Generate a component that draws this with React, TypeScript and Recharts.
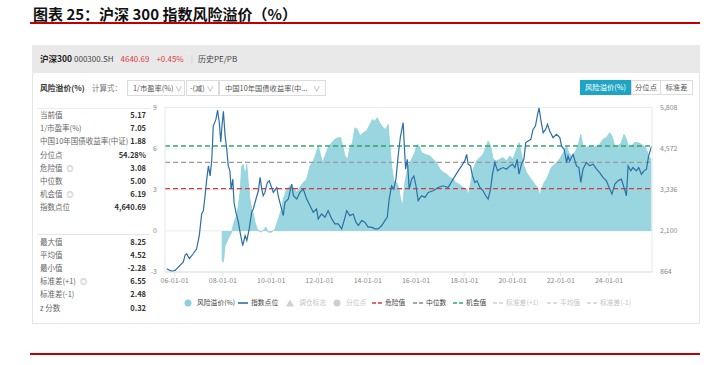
import React from 'react';
import { ComposedChart, Area, Line, XAxis, YAxis, CartesianGrid, ReferenceLine } from 'recharts';

// ---------- data ----------
const xTicks = [2006, 2008, 2010, 2012, 2014, 2016, 2018, 2020, 2022, 2024];
const leftTicks = [-3, 0, 3, 6, 9];
const rightTicks = [864, 2100, 3336, 4572, 5808];
const dangerValue = 3.08;
const medianValue = 5.0;
const chanceValue = 6.19;

// 指数点位 [time(year), points]
const indexSeries: [number, number][] = [
  [2005.67, 963], [2005.88, 885], [2006.02, 913], [2006.15, 1012], [2006.36, 1165], [2006.43, 1363],
  [2006.5, 1412], [2006.61, 1264], [2006.77, 1412], [2006.91, 1561], [2007.02, 1960], [2007.12, 2608],
  [2007.19, 2707], [2007.26, 3156], [2007.33, 3654], [2007.4, 4053], [2007.47, 3752], [2007.54, 4251],
  [2007.6, 5249], [2007.71, 5449], [2007.78, 5726], [2007.85, 5351], [2007.91, 4769], [2007.96, 5249],
  [2008.02, 5697], [2008.09, 4951], [2008.16, 4552], [2008.22, 4053], [2008.29, 3904], [2008.34, 3355],
  [2008.41, 3654], [2008.46, 2957], [2008.54, 2659], [2008.64, 2360], [2008.71, 2062], [2008.82, 1660],
  [2008.92, 1960], [2008.99, 1811], [2009.09, 2160], [2009.19, 2659], [2009.26, 2758], [2009.37, 3057],
  [2009.47, 3305], [2009.54, 3706], [2009.61, 3355], [2009.67, 3156], [2009.74, 3256], [2009.84, 3555],
  [2009.92, 3604], [2009.99, 3455], [2010.09, 3256], [2010.23, 3405], [2010.29, 3156], [2010.43, 2758],
  [2010.5, 2558], [2010.57, 2957], [2010.71, 3057], [2010.85, 3505], [2010.92, 3156], [2011.06, 3057],
  [2011.19, 3256], [2011.33, 3355], [2011.47, 3057], [2011.61, 2857], [2011.74, 2659], [2011.88, 2758],
  [2011.95, 2459], [2012.09, 2608], [2012.23, 2509], [2012.36, 2707], [2012.51, 2459], [2012.64, 2310],
  [2012.78, 2310], [2012.92, 2160], [2013.06, 2509], [2013.13, 2707], [2013.26, 2558], [2013.4, 2608],
  [2013.51, 2360], [2013.61, 2261], [2013.75, 2410], [2013.88, 2360], [2014.02, 2211], [2014.16, 2211],
  [2014.3, 2160], [2014.43, 2160], [2014.58, 2261], [2014.71, 2410], [2014.81, 2509], [2014.89, 3057],
  [2014.99, 3455], [2015.08, 3355], [2015.17, 3654], [2015.26, 4351], [2015.36, 4951], [2015.47, 5351],
  [2015.51, 4753], [2015.57, 3954], [2015.64, 4251], [2015.72, 3355], [2015.82, 3654], [2015.91, 3752],
  [2016.0, 3455], [2016.09, 3007], [2016.23, 3156], [2016.37, 3106], [2016.51, 3256], [2016.71, 3305],
  [2016.92, 3405], [2017.13, 3455], [2017.33, 3405], [2017.54, 3654], [2017.75, 3904], [2017.89, 4053],
  [2018.02, 4202], [2018.1, 4401], [2018.16, 4103], [2018.26, 4053], [2018.34, 3752], [2018.44, 3555],
  [2018.53, 3604], [2018.65, 3405], [2018.78, 3305], [2018.89, 3156], [2018.99, 3057], [2019.09, 3355],
  [2019.17, 3803], [2019.27, 4153], [2019.38, 3904], [2019.47, 3954], [2019.61, 4003], [2019.75, 3954],
  [2019.89, 4053], [2020.0, 4103], [2020.1, 4003], [2020.19, 4251], [2020.27, 3803], [2020.37, 4103],
  [2020.47, 4251], [2020.55, 4753], [2020.65, 4802], [2020.76, 4852], [2020.85, 5150], [2020.95, 5249],
  [2021.04, 5598], [2021.1, 5800], [2021.17, 5449], [2021.27, 5051], [2021.37, 5150], [2021.45, 5300],
  [2021.54, 5100], [2021.68, 4902], [2021.82, 5001], [2021.96, 4902], [2022.03, 4652], [2022.14, 4552],
  [2022.24, 4153], [2022.3, 4351], [2022.37, 4202], [2022.51, 4401], [2022.65, 4053], [2022.75, 4003],
  [2022.83, 3555], [2022.92, 3954], [2023.06, 4153], [2023.2, 4053], [2023.34, 4103], [2023.48, 3954],
  [2023.61, 3853], [2023.75, 3706], [2023.89, 3604], [2024.03, 3355], [2024.12, 3206], [2024.24, 3505],
  [2024.37, 3604], [2024.51, 3654], [2024.62, 3405], [2024.72, 3156], [2024.79, 4053], [2024.9, 3904],
  [2024.99, 4003], [2025.13, 3904], [2025.23, 4003], [2025.34, 3803], [2025.45, 3904], [2025.55, 3954],
  [2025.64, 4351], [2025.76, 4641],
];

// 风险溢价(%) [time(year), value]
const premiumSeries: [number, number][] = [
  [2007.95, -2.15], [2008.02, -2.27], [2008.09, -1.07], [2008.16, -0.82], [2008.22, -0.58], [2008.29, -0.34],
  [2008.36, -0.1], [2008.46, 0.63], [2008.57, 1.11], [2008.64, 1.84], [2008.71, 2.81], [2008.78, 4.74],
  [2008.84, 4.86], [2008.92, 4.01], [2008.99, 4.86], [2009.05, 3.53], [2009.12, 2.32], [2009.19, 1.6],
  [2009.26, 1.23], [2009.33, 0.63], [2009.42, 0.15], [2009.54, -0.1], [2009.67, 0.02], [2009.78, 0.27],
  [2009.88, -0.1], [2010.02, -0.1], [2010.16, 0.15], [2010.25, 0.63], [2010.36, 1.23], [2010.43, 1.6],
  [2010.5, 2.32], [2010.64, 3.05], [2010.78, 3.29], [2010.92, 3.17], [2011.06, 2.81], [2011.19, 3.17],
  [2011.33, 3.53], [2011.47, 3.77], [2011.61, 4.74], [2011.74, 5.1], [2011.85, 5.59], [2011.95, 6.19],
  [2012.02, 5.71], [2012.13, 4.99], [2012.23, 5.46], [2012.36, 6.07], [2012.51, 6.44], [2012.64, 6.68],
  [2012.78, 6.8], [2012.88, 6.8], [2012.96, 6.19], [2013.06, 5.46], [2013.17, 5.22], [2013.26, 6.07],
  [2013.37, 6.44], [2013.47, 7.52], [2013.57, 7.4], [2013.68, 6.92], [2013.81, 7.16], [2013.95, 7.28],
  [2014.09, 7.76], [2014.2, 8.13], [2014.3, 8.0], [2014.39, 8.25], [2014.5, 7.89], [2014.64, 7.52],
  [2014.75, 7.4], [2014.85, 7.76], [2014.92, 6.19], [2014.99, 4.74], [2015.08, 3.65], [2015.2, 3.53],
  [2015.3, 3.05], [2015.36, 2.32], [2015.45, 1.84], [2015.54, 3.53], [2015.68, 4.74], [2015.82, 5.22],
  [2015.95, 5.71], [2016.05, 6.31], [2016.13, 6.19], [2016.23, 5.71], [2016.37, 5.59], [2016.58, 5.46],
  [2016.71, 5.22], [2016.85, 4.99], [2016.99, 4.5], [2017.13, 4.26], [2017.27, 4.14], [2017.4, 3.9],
  [2017.54, 3.77], [2017.65, 3.53], [2017.79, 3.41], [2017.95, 3.17], [2018.1, 3.05], [2018.16, 2.56],
  [2018.26, 3.41], [2018.37, 4.5], [2018.51, 5.1], [2018.65, 5.35], [2018.78, 5.59], [2018.89, 6.07],
  [2018.99, 6.55], [2019.09, 6.19], [2019.2, 5.22], [2019.34, 5.1], [2019.47, 5.22], [2019.61, 5.35],
  [2019.75, 5.1], [2019.89, 5.46], [2020.02, 5.22], [2020.17, 5.95], [2020.27, 6.44], [2020.37, 5.59],
  [2020.47, 4.74], [2020.58, 4.26], [2020.72, 3.9], [2020.92, 3.41], [2021.06, 3.05], [2021.13, 2.56],
  [2021.2, 3.05], [2021.31, 3.53], [2021.41, 3.77], [2021.5, 4.14], [2021.61, 4.62], [2021.75, 4.86],
  [2021.89, 5.1], [2022.03, 5.46], [2022.14, 5.83], [2022.24, 6.19], [2022.33, 5.71], [2022.44, 5.46],
  [2022.55, 5.59], [2022.65, 5.95], [2022.75, 6.44], [2022.83, 7.04], [2022.92, 6.19], [2023.06, 6.07],
  [2023.2, 6.19], [2023.34, 6.07], [2023.48, 6.19], [2023.61, 6.31], [2023.75, 6.68], [2023.89, 6.8],
  [2024.03, 7.16], [2024.12, 6.92], [2024.24, 6.19], [2024.37, 6.19], [2024.51, 6.44], [2024.62, 7.04],
  [2024.72, 6.68], [2024.82, 6.07], [2024.93, 6.19], [2025.06, 6.44], [2025.2, 6.44], [2025.34, 6.31],
  [2025.45, 6.19], [2025.55, 5.95], [2025.64, 5.46], [2025.76, 5.17],
];

const statsTop: [string, string, boolean][] = [
  ['当前值', '5.17', false],
  ['1/市盈率(%)', '7.05', false],
  ['中国10年国债收益率(中证)', '1.88', false],
  ['分位点', '54.28%', false],
  ['危险值', '3.08', true],
  ['中位数', '5.00', false],
  ['机会值', '6.19', true],
  ['指数点位', '4,640.69', false],
];
const statsBottom: [string, string, boolean][] = [
  ['最大值', '8.25', false],
  ['平均值', '4.52', false],
  ['最小值', '-2.28', false],
  ['标准差(+1)', '6.55', true],
  ['标准差(-1)', '2.48', false],
  ['z 分数', '0.32', false],
];

const legendItems: { name: string; kind: string; color: string; active: boolean; x: number }[] = [
  { name: '风险溢价(%)', kind: 'circle', color: '#8dd0da', active: true, x: 184 },
  { name: '指数点位', kind: 'line', color: '#2b6fa6', active: true, x: 238 },
  { name: '调仓标志', kind: 'triangle', color: '#d0d0d0', active: false, x: 286 },
  { name: '分位点', kind: 'circle', color: '#d0d0d0', active: false, x: 333 },
  { name: '危险值', kind: 'dash', color: '#d93a3a', active: true, x: 372 },
  { name: '中位数', kind: 'dash', color: '#888888', active: true, x: 413 },
  { name: '机会值', kind: 'dash', color: '#35a56c', active: true, x: 453 },
  { name: '标准差(+1)', kind: 'dash', color: '#d0d0d0', active: false, x: 493 },
  { name: '平均值', kind: 'dash', color: '#d0d0d0', active: false, x: 547 },
  { name: '标准差(-1)', kind: 'dash', color: '#d0d0d0', active: false, x: 587 },
];

// ---------- table for the library ----------
const rowMap = new Map<number, any>();
indexSeries.forEach(([t, v]) => {
  const r = rowMap.get(t) || { t };
  r.idx = v;
  rowMap.set(t, r);
});
premiumSeries.forEach(([t, v]) => {
  const r = rowMap.get(t) || { t };
  r.rp = v;
  rowMap.set(t, r);
});
const table = Array.from(rowMap.values()).sort((a, b) => a.t - b.t);

const FONT = '"Noto Sans CJK SC", "Noto Sans", sans-serif';

const abs = (left: number, top: number, extra: React.CSSProperties = {}): React.CSSProperties => ({
  position: 'absolute',
  left,
  top,
  whiteSpace: 'nowrap',
  ...extra,
});

function StatRow({ label, value, icon, y }: { label: string; value: string; icon: boolean; y: number }) {
  return (
    <>
      <div style={abs(40, y - 6, { fontSize: 7.5, lineHeight: '12px', color: '#666' })}>
        {label}
        {icon ? <span style={{ marginLeft: 4, fontSize: 7, color: '#888' }}>◎</span> : null}
      </div>
      <div style={abs(96, y - 6, { width: 50, textAlign: 'right', fontSize: 7.5, lineHeight: '12px', color: '#333', fontWeight: 700 })}>
        {value}
      </div>
    </>
  );
}

function LegendMark({ kind, color }: { kind: string; color: string }) {
  return (
    <svg width={10} height={8} style={{ verticalAlign: 'middle', marginRight: 3 }}>
      {kind === 'circle' && <circle cx={4} cy={4} r={3.5} fill={color} />}
      {kind === 'line' && <line x1={0} y1={4} x2={10} y2={4} stroke={color} strokeWidth={1.6} />}
      {kind === 'triangle' && <polygon points="4,0.5 8,7.5 0,7.5" fill={color} />}
      {kind === 'dash' && <line x1={0} y1={4} x2={10} y2={4} stroke={color} strokeWidth={1.4} strokeDasharray="4 2" />}
    </svg>
  );
}

export default function App() {
  return (
    <div style={{ position: 'absolute', left: 0, top: 0, width: 706, height: 365, background: '#fff', fontFamily: FONT, overflow: 'hidden' }}>
      {/* title */}
      <div style={abs(33, 4, { fontSize: 15, lineHeight: '19px', fontWeight: 700, color: '#111' })}>
        图表 25：沪深 300 指数风险溢价（%）
      </div>
      <div style={abs(30, 22, { width: 670, height: 1.5, background: '#c00000' })} />
      <div style={abs(30, 353, { width: 670, height: 1.5, background: '#c00000' })} />

      {/* panel */}
      <div style={abs(32, 45, { width: 668, height: 28, background: '#e9e9e9' })} />
      <div style={abs(32, 73, { width: 666, height: 250, border: '1px solid #e6e6e6', borderTop: 'none', background: '#fff' })} />

      {/* header text */}
      <div style={abs(40, 52, { fontSize: 8, lineHeight: '12px', color: '#333' })}>
        <span style={{ fontWeight: 700, fontSize: 8.5, color: '#222' }}>沪深300</span>
        <span style={{ marginLeft: 2, color: '#444' }}>000300.SH</span>
        <span style={{ marginLeft: 7, color: '#e03b3b' }}>4640.69</span>
        <span style={{ marginLeft: 7, color: '#e03b3b' }}>+0.45%</span>
        <span style={{ marginLeft: 7, color: '#ccc' }}>|</span>
        <span style={{ marginLeft: 5, color: '#444' }}>历史PE/PB</span>
      </div>

      {/* controls */}
      <div style={abs(40, 82, { fontSize: 7.8, lineHeight: '12px', color: '#333', fontWeight: 700 })}>风险溢价(%)</div>
      <div style={abs(92, 82, { fontSize: 7.5, lineHeight: '12px', color: '#777' })}>计算式：</div>
      <div style={abs(127, 80, { width: 58, height: 16, border: '1px solid #dcdcdc', boxSizing: 'border-box', fontSize: 7.3, lineHeight: '14px', color: '#555', paddingLeft: 5 })}>
        1/市盈率(%) <span style={{ color: '#999' }}>∨</span>
      </div>
      <div style={abs(186, 80, { width: 33, height: 16, border: '1px solid #dcdcdc', boxSizing: 'border-box', fontSize: 7.3, lineHeight: '14px', color: '#555', paddingLeft: 3 })}>
        -(减) <span style={{ color: '#999' }}>∨</span>
      </div>
      <div style={abs(219, 80, { width: 107, height: 16, border: '1px solid #dcdcdc', boxSizing: 'border-box', fontSize: 7.3, lineHeight: '14px', color: '#555', paddingLeft: 5 })}>
        中国10年国债收益率(中... <span style={{ color: '#999', marginLeft: 4 }}>∨</span>
      </div>

      {/* right buttons */}
      <div style={abs(580, 80, { width: 51, height: 15, background: '#1ea5c3', color: '#fff', fontSize: 7.3, lineHeight: '15px', textAlign: 'center' })}>风险溢价(%)</div>
      <div style={abs(631, 80, { width: 30, height: 15, border: '1px solid #ddd', boxSizing: 'border-box', color: '#555', fontSize: 7.3, lineHeight: '13px', textAlign: 'center' })}>分位点</div>
      <div style={abs(661, 80, { width: 32, height: 15, border: '1px solid #ddd', borderLeft: 'none', boxSizing: 'border-box', color: '#555', fontSize: 7.3, lineHeight: '13px', textAlign: 'center' })}>标准差</div>

      {/* stats */}
      <div style={abs(38, 108, { width: 112, height: 1, background: '#ececec' })} />
      {statsTop.map(([l, v, ic], i) => (
        <StatRow key={l} label={l} value={v} icon={ic} y={115 + i * 13.2} />
      ))}
      <div style={abs(38, 234, { width: 112, height: 1, background: '#e6e6e6' })} />
      {statsBottom.map(([l, v, ic], i) => (
        <StatRow key={l} label={l} value={v} icon={ic} y={242 + i * 13.1} />
      ))}

      {/* chart */}
      <div style={abs(125, 100, { width: 570, height: 190 })}>
        <ComposedChart width={570} height={190} data={table} margin={{ top: 7.5, right: 0, bottom: 0, left: 0 }}>
          <CartesianGrid yAxisId="left" vertical={false} stroke="#e8ecf0" />
          <XAxis
            dataKey="t"
            type="number"
            domain={[2005.6, 2025.78]}
            ticks={xTicks}
            interval={0}
            allowDataOverflow
            height={18}
            tickSize={4}
            tickMargin={2}
            tickLine={{ stroke: '#dde3ea' }}
            axisLine={{ stroke: '#dde3ea' }}
            tick={{ fontSize: 7, fill: '#888', fontFamily: FONT }}
            tickFormatter={(t: number) => `${String(t % 100).padStart(2, '0')}-01-01`}
          />
          <YAxis
            yAxisId="left"
            orientation="left"
            width={40}
            domain={[-3, 9]}
            ticks={leftTicks}
            interval={0}
            allowDataOverflow
            tickSize={0}
            tickMargin={8}
            tickLine={false}
            axisLine={{ stroke: '#e3e8ee' }}
            tick={{ fontSize: 7, fill: '#888', fontFamily: FONT }}
          />
          <YAxis
            yAxisId="right"
            orientation="right"
            width={43}
            domain={[864, 5808]}
            ticks={rightTicks}
            interval={0}
            allowDataOverflow
            tickSize={0}
            tickMargin={8}
            tickLine={false}
            axisLine={{ stroke: '#e3e8ee' }}
            tick={{ fontSize: 7, fill: '#888', fontFamily: FONT }}
            tickFormatter={(v: number) => v.toLocaleString('en-US')}
          />
          <Area
            yAxisId="left"
            dataKey="rp"
            type="linear"
            baseValue={0}
            connectNulls
            stroke="#8fd1db"
            strokeWidth={0.8}
            fill="#8fd1db"
            fillOpacity={0.9}
            dot={false}
            activeDot={false}
            isAnimationActive={false}
          />
          <ReferenceLine yAxisId="left" y={chanceValue} stroke="#35a56c" strokeWidth={1.4} strokeDasharray="5 3" />
          <ReferenceLine yAxisId="left" y={medianValue} stroke="#9a9a9a" strokeWidth={1.4} strokeDasharray="5 3" />
          <ReferenceLine yAxisId="left" y={dangerValue} stroke="#d93a3a" strokeWidth={1.4} strokeDasharray="5 3" />
          <Line
            yAxisId="right"
            dataKey="idx"
            type="linear"
            connectNulls
            stroke="#2b6fa6"
            strokeWidth={1.2}
            dot={false}
            activeDot={false}
            isAnimationActive={false}
          />
        </ComposedChart>
      </div>

      {/* legend */}
      {legendItems.map((it) => (
        <div key={it.name} style={abs(it.x, 296, { fontSize: 6.8, lineHeight: '12px', color: it.active ? '#444' : '#c4c4c4' })}>
          <LegendMark kind={it.kind} color={it.color} />
          {it.name}
        </div>
      ))}
    </div>
  );
}
